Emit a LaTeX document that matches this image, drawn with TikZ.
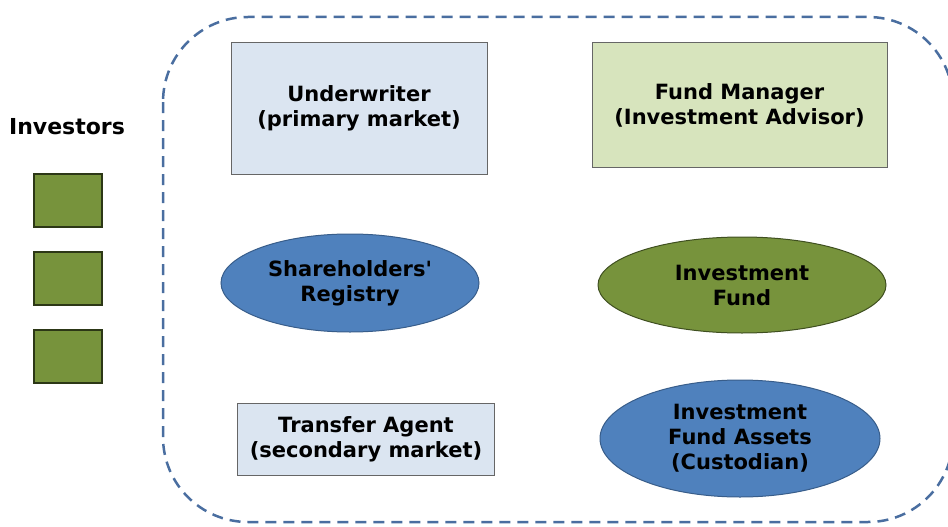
\documentclass[tikz,border=0pt]{standalone}
\usepackage{fontspec}
\setmainfont{DejaVu Sans}[Ligatures=TeXOff]
\usetikzlibrary{shapes,arrows}
\definecolor{paleblue}{HTML}{DBE5F1}
\definecolor{palegreen}{HTML}{D7E4BD}
\definecolor{midblue}{HTML}{4F81BD}
\definecolor{darkblue}{HTML}{385D8A}
\definecolor{olive}{HTML}{77933C}
\definecolor{darkolive}{HTML}{3F4F20}
\definecolor{frameblue}{HTML}{4A6EA0}
\tikzstyle{r} = [rectangle, text centered, align=center, draw=gray!80!black, line width=1pt, inner sep=0pt]
\tikzstyle{e} = [ellipse, text centered, align=center, draw=darkblue, line width=1pt, fill=midblue, inner sep=0pt]
\tikzstyle{inv} = [rectangle, draw=darkolive!70!black, line width=1.5pt, fill=olive, minimum width=68pt, minimum height=53pt]

\begin{document}
\begin{tikzpicture}[x=1pt, y=-1pt, font=\fontsize{21}{25}\selectfont\bfseries]
		\useasboundingbox (0,0) rectangle (948,527);
		\begin{scope}
		\clip (0,0) rectangle (948,527);
		\draw[frameblue, dashed, dash pattern=on 11pt off 7pt, line width=2.5pt, rounded corners=85pt] (163,17) rectangle (953,522);
		\end{scope}
		
		\node[font=\fontsize{22}{26}\selectfont\bfseries](investors) at (67,127){Investors};
		\node[inv](inv1) at (68,200.5){};
		\node[inv](inv2) at (68,278.5){};
		\node[inv](inv3) at (68,356.5){};
		
		\node[r, fill=paleblue, minimum width=256pt, minimum height=131pt](underwriter) at (359,108.5){Underwriter\\(primary market)};
		\node[r, fill=palegreen, minimum width=295pt, minimum height=124pt](manager) at (739.5,105){Fund Manager\\(Investment Advisor)};
		\node[e, minimum width=258pt, minimum height=98pt](registry) at (350,283){Shareholders'\\Registry};
		\node[e, fill=olive, draw=darkolive, minimum width=288pt, minimum height=96pt](fund) at (742,285){Investment\\Fund};
		\node[r, fill=paleblue, minimum width=257pt, minimum height=72pt](agent) at (366,439){Transfer Agent\\(secondary market)};
		\node[e, minimum width=280pt, minimum height=117pt](assets) at (740,438.5){Investment\\Fund Assets\\(Custodian)};
	\end{tikzpicture}
\end{document}
